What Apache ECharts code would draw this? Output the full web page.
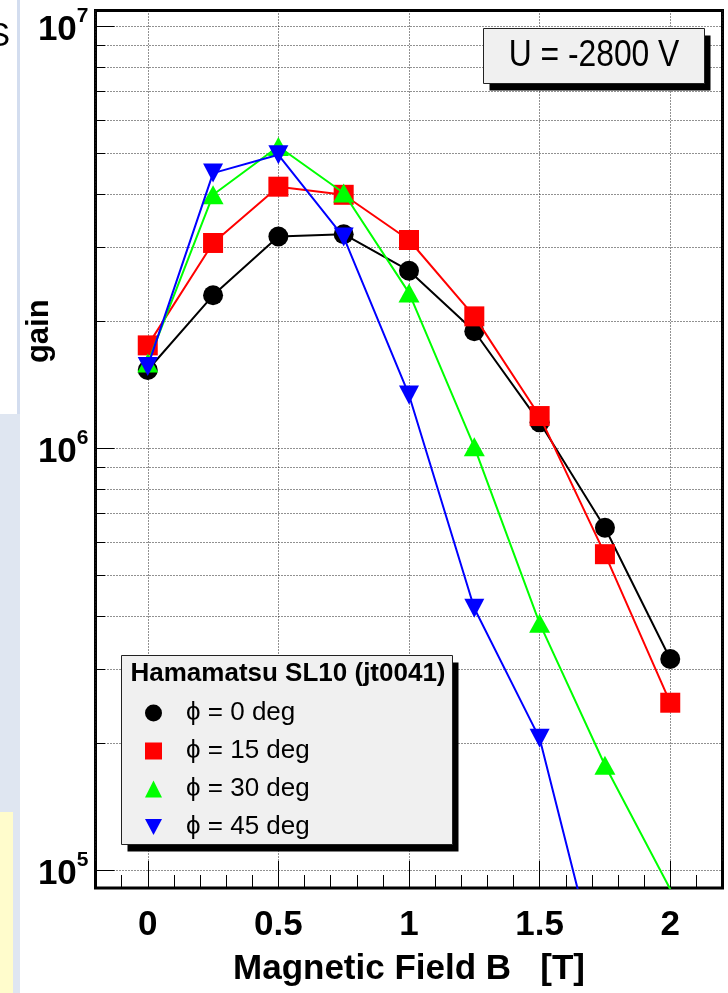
<!DOCTYPE html>
<html><head><meta charset="utf-8">
<script src="https://cdn.jsdelivr.net/npm/echarts@6/dist/echarts.min.js"></script>
<style>html,body{margin:0;padding:0;background:#fff}#c{width:728px;height:993px}</style>
</head><body><div id="c"></div>
<script>
// ---- data ----
const fieldB = [0, 0.25, 0.5, 0.75, 1.0, 1.25, 1.5, 1.75, 2.0];
const gainPhi0  = [1.53e6, 2.30e6, 3.17e6, 3.21e6, 2.63e6, 1.89e6, 1.15e6, 6.47e5, 3.16e5];
const gainPhi15 = [1.75e6, 3.06e6, 4.16e6, 3.98e6, 3.11e6, 2.05e6, 1.19e6, 5.60e5, 2.49e5];
const gainPhi30 = [1.59e6, 3.98e6, 5.18e6, 4.02e6, 2.33e6, 1.006e6, 3.84e5, 1.77e5, 9.0e4];
const gainPhi45 = [1.56e6, 4.48e6, 4.95e6, 3.16e6, 1.335e6, 4.17e5, 2.05e5, 5.0e4];
const seriesNames = ['\u03d5 = 0 deg', '\u03d5 = 15 deg', '\u03d5 = 30 deg', '\u03d5 = 45 deg'];
const xTickLabels = ['0', '0.5', '1', '1.5', '2'];
const yTickExponents = [5, 6, 7];
const yGridValues = [1e5, 2e5, 3e5, 4e5, 5e5, 6e5, 7e5, 8e5, 9e5,
                     1e6, 2e6, 3e6, 4e6, 5e6, 6e6, 7e6, 8e6, 9e6, 1e7];
const legendTitle = 'Hamamatsu SL10 (jt0041)';
const voltageText = 'U = -2800 V';

// ---- style ----
const FF = '"Liberation Sans", Arial, Helvetica, sans-serif';
const xMin = -0.2, xMax = 2.2, yMin = 9.06e4, yMax = 1.088e7;
const colors = ['#000000', '#ff0000', '#00ff00', '#0000ff'];
const INV_TRI = 'path://M0,0L20,0L10,19Z';
const symbols = ['circle', 'rect', 'triangle', INV_TRI];
const symbolSizes = [20, 20, [21, 19], [20, 19]];
const gains = [gainPhi0, gainPhi15, gainPhi30, gainPhi45];
const GRID_COLOR = '#222';

const chart = echarts.init(document.getElementById('c'), null, {renderer: 'canvas'});

const lineSeries = gains.map((g, i) => ({
  type: 'line',
  name: seriesNames[i],
  data: g.map((v, j) => [fieldB[j], v]),
  symbol: symbols[i],
  symbolSize: symbolSizes[i],
  showSymbol: true,
  clip: true,
  z: 3 + i,
  lineStyle: {color: colors[i], width: 2},
  itemStyle: {color: colors[i], borderWidth: 0},
  emphasis: {disabled: true},
  silent: true,
  animation: false
}));

const gridSeries = {
  type: 'custom',
  name: 'ygrid',
  z: 1,
  silent: true,
  clip: false,
  animation: false,
  data: yGridValues.map(v => [xMin, v]),
  encode: {x: 0, y: 1},
  renderItem: function (params, api) {
    const v = api.value(1);
    const p0 = api.coord([xMin, v]);
    const p1 = api.coord([xMax, v]);
    const y = Math.round(p0[1]) + 0.5;
    const lv = Math.log10(v);
    const isMajor = yTickExponents.some(e => Math.abs(lv - e) < 1e-9);
    return {
      type: 'group',
      children: [
        {type: 'line', shape: {x1: p0[0], y1: y, x2: p1[0], y2: y},
         style: {stroke: GRID_COLOR, lineWidth: 1, lineDash: [1, 2]}},
        {type: 'line', shape: {x1: p0[0], y1: y, x2: p0[0] + (isMajor ? 19 : 9.5), y2: y},
         style: {stroke: '#000', lineWidth: 1}}
      ]
    };
  }
};

const option = {
  backgroundColor: '#ffffff',
  animation: false,
  grid: {
    left: 95.5, top: 10.5, width: 627, height: 877.5,
    show: true, borderColor: '#000', borderWidth: 3, backgroundColor: '#fff',
    containLabel: false, outerBoundsMode: 'none'
  },
  xAxis: {
    type: 'value', min: xMin, max: xMax, splitNumber: 5,
    axisLine: {show: false},
    axisTick: {show: true, inside: true, length: 27, lineStyle: {color: '#000', width: 1}},
    minorTick: {show: true, splitNumber: 5, length: 13, lineStyle: {color: '#000', width: 1}},
    splitLine: {show: true, lineStyle: {color: GRID_COLOR, width: 1, type: [1, 2]}},
    axisLabel: {
      margin: 20, fontSize: 35, fontWeight: 'bold', fontFamily: FF, color: '#000',
      showMinLabel: true, showMaxLabel: true,
      formatter: v => (xTickLabels.indexOf(String(v)) >= 0 ? String(v) : '')
    },
    name: 'Magnetic Field B   [T]', nameLocation: 'middle', nameGap: 64, nameMoveOverlap: false,
    nameTextStyle: {fontSize: 35, fontWeight: 'bold', fontFamily: FF, color: '#000'}
  },
  yAxis: {
    type: 'log', logBase: 10, min: yMin, max: yMax,
    axisLine: {show: false},
    axisTick: {show: false},
    minorTick: {show: false},
    splitLine: {show: false},
    axisLabel: {
      margin: 7,
      formatter: function (v) {
        const lv = Math.log10(v);
        const e = Math.round(lv);
        if (Math.abs(lv - e) < 1e-6 && yTickExponents.indexOf(e) >= 0) return '{b|10}{s|' + e + '}';
        return '';
      },
      rich: {
        b: {fontSize: 35, fontWeight: 'bold', fontFamily: FF, color: '#000', padding: [9, 0, 0, 0]},
        s: {fontSize: 21, fontWeight: 'bold', fontFamily: FF, color: '#000', padding: [0, 0, 20, 0]}
      }
    },
    name: 'gain', nameLocation: 'middle', nameRotate: 90, nameGap: 41, nameMoveOverlap: false,
    nameTextStyle: {fontSize: 31, fontWeight: 'bold', fontFamily: FF, color: '#000', padding: [0, 0, 0, 236]}
  },
  legend: {
    z: 60, orient: 'vertical', left: 145, top: 700, padding: 0,
    itemWidth: 17, itemHeight: 17, itemGap: 12, selectedMode: false,
    itemStyle: {borderWidth: 0},
    textStyle: {fontFamily: FF, fontSize: 26, lineHeight: 26, color: '#000', padding: [0, 0, 0, 19]},
    data: seriesNames.map((n, i) => ({name: n, icon: symbols[i]}))
  },
  graphic: [
    {type: 'rect', shape: {x: 0, y: 414, width: 20, height: 579}, style: {fill: '#dfe6f1'}, z: 40},
    {type: 'rect', shape: {x: 17, y: 0, width: 3, height: 414}, style: {fill: '#d3ddef'}, z: 40},
    {type: 'rect', shape: {x: 0, y: 812, width: 13, height: 181}, style: {fill: '#fffccc'}, z: 41},
    {type: 'text', x: -12, y: 37, style: {text: 'S', font: '33px ' + FF, fill: '#000', textVerticalAlign: 'middle'}, z: 41},

    {type: 'rect', shape: {x: 489.5, y: 35.5, width: 221, height: 55}, style: {fill: '#000'}, z: 50},
    {type: 'rect', shape: {x: 483.5, y: 28.5, width: 221, height: 55}, style: {fill: '#f0f0f0', stroke: '#222', lineWidth: 1}, z: 51},
    {type: 'text', x: 594, y: 56, scaleX: 0.86, style: {text: voltageText, font: '37px ' + FF, fill: '#000', textAlign: 'center', textVerticalAlign: 'middle'}, z: 52},

    {type: 'rect', shape: {x: 127.5, y: 662.5, width: 331, height: 189}, style: {fill: '#000'}, z: 50},
    {type: 'rect', shape: {x: 121.5, y: 655.5, width: 331, height: 189}, style: {fill: '#f0f0f0', stroke: '#222', lineWidth: 1}, z: 51},
    {type: 'text', x: 288, y: 674, style: {text: legendTitle, font: 'bold 26px ' + FF, fill: '#000', textAlign: 'center', textVerticalAlign: 'middle'}, z: 52}
  ],
  series: [gridSeries].concat(lineSeries)
};

chart.setOption(option);
</script>
</body></html>
